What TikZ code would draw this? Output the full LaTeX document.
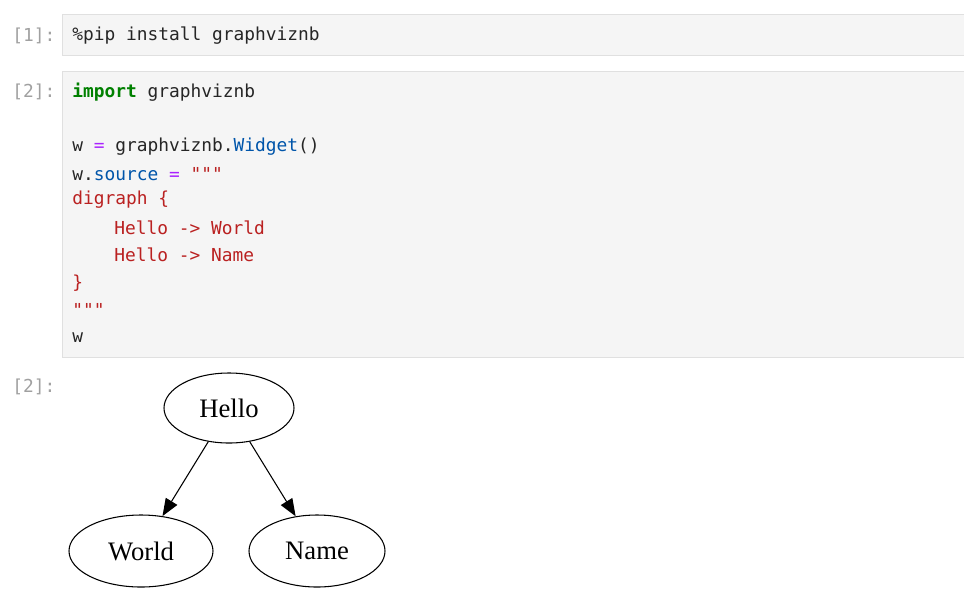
\documentclass[tikz,border=0pt]{standalone}
\usepackage{fontspec}
\setmonofont{DejaVu Sans Mono}
\setmainfont{Liberation Serif}
\usetikzlibrary{shapes.geometric,arrows.meta}
\definecolor{cellbg}{HTML}{F5F5F5}
\definecolor{cellline}{HTML}{E0E0E0}
\definecolor{prompt}{HTML}{A0A0A0}
\definecolor{kwgreen}{HTML}{008000}
\definecolor{oppurple}{HTML}{AA22FF}
\definecolor{attrblue}{HTML}{0055AA}
\definecolor{strred}{HTML}{BA2121}
\newcommand{\kw}[1]{\textcolor{kwgreen}{\textbf{#1}}}
\newcommand{\op}[1]{\textcolor{oppurple}{#1}}
\newcommand{\at}[1]{\textcolor{attrblue}{#1}}
\newcommand{\str}[1]{\textcolor{strred}{#1}}

\begin{document}
\begin{tikzpicture}[x=0.75pt,y=-0.75pt,
  code/.style={anchor=west,inner sep=0pt,font=\ttfamily\fontsize{13.4}{16}\selectfont,text=black!85},
  prm/.style={anchor=west,inner sep=0pt,font=\ttfamily\fontsize{13.4}{16}\selectfont,text=prompt},
  cell/.style={fill=cellbg,draw=cellline,line width=0.75pt},
  gnode/.style={ellipse,draw,thick,inner sep=0pt,font=\fontsize{20}{24}\selectfont},
  edge/.style={thick,-{Triangle[length=13pt,width=10pt]}}]
\useasboundingbox (0,0) rectangle (964,601);

% cells
\draw[cell] (62,14) rectangle (964,55);
\draw[cell] (62,71) rectangle (964,357);

\node[prm] (p1) at (12,36) {[1]:};
\node[code] (l0) at (72,36) {\%pip install graphviznb};

\node[prm] (p2) at (12,92) {[2]:};
\node[code] (l1) at (72,92) {\kw{import} graphviznb};
\node[code] (l2) at (72,147) {w \op{=} graphviznb.\at{Widget}()};
\node[code] (l3) at (72,174) {w.\at{source} \op{=} \str{"""}};
\node[code] (l4) at (72,200) {\str{digraph \{}};
\node[code] (l5) at (114,228) {\str{Hello -> World}};
\node[code] (l6) at (114,255) {\str{Hello -> Name}};
\node[code] (l7) at (72,283) {\str{\}}};
\node[code] (l8) at (72,310) {\str{"""}};
\node[code] (l9) at (72,338) {w};

\node[prm] (p3) at (12,387) {[2]:};

% graph output
\node[gnode,minimum width=97.5pt,minimum height=52.5pt] (hello) at (229,408) {Hello};
\node[gnode,minimum width=108pt,minimum height=54pt] (world) at (141,551) {World};
\node[gnode,minimum width=102pt,minimum height=54pt] (name) at (317,551) {Name};

\draw[edge] (hello) -- (world);
\draw[edge] (hello) -- (name);
\end{tikzpicture}
\end{document}
